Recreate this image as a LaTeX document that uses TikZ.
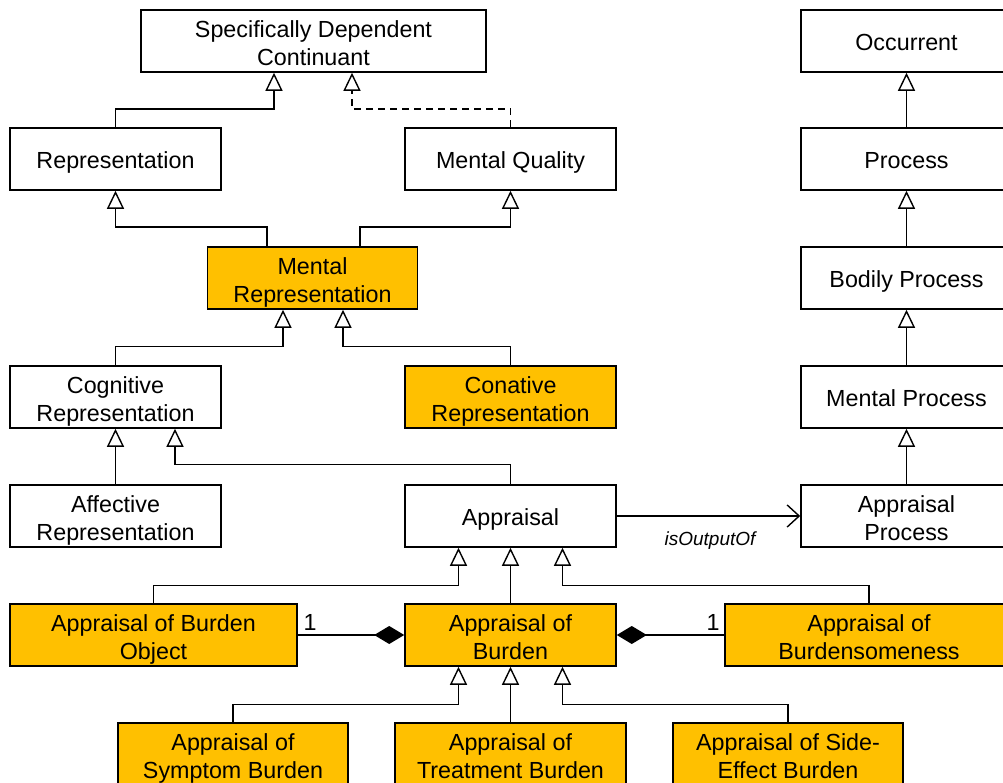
\documentclass[tikz,border=0pt]{standalone}
\usepackage{fontspec}
\setmainfont{Liberation Sans}
\usetikzlibrary{arrows.meta}
\definecolor{gold}{RGB}{255,192,0}
\newcommand{\bxone}[1]{\raisebox{0pt}[18.6pt][0pt]{\begin{tabular}[b]{@{}c@{}}#1\end{tabular}}}
\newcommand{\bxtwo}[1]{\raisebox{0pt}[49.2pt][0pt]{\begin{tabular}[b]{@{}c@{}}#1\end{tabular}}}
\begin{document}
\begin{tikzpicture}[x=1pt,y=-1pt,
  box/.style={draw=black,line width=1.6pt,fill=white,minimum height=62pt,minimum width=211pt,inner sep=0pt,font=\fontsize{23.3}{28.5}\selectfont},
  hl/.style={box,fill=gold},
  gen/.style={line width=1.4pt,-{Triangle[open,length=18pt,width=17pt]}},
  realize/.style={gen,dash pattern=on 7pt off 5pt},
  comp/.style={line width=1.4pt,{Diamond[length=30pt,width=18pt]}-},
  assoc/.style={line width=1.4pt,-{Straight Barb[length=12pt,width=22pt]}},
  lbl/.style={inner sep=0pt,font=\fontsize{23.3}{28.5}\selectfont},
  ilbl/.style={inner sep=0pt,font=\fontsize{19}{23}\selectfont\itshape}]
\useasboundingbox (0,0) rectangle (1003,783);
\clip (0,0) rectangle (1003,783);
\fill[white] (0,0) rectangle (1003,783);
% nodes
\node[box,minimum width=345pt] (sdc) at (313.5,41) {\bxtwo{Specifically Dependent\\Continuant}};
\node[box] (occ) at (906.5,41) {\bxone{Occurrent}};
\node[box] (rep) at (115.5,159) {\bxone{Representation}};
\node[box] (mq) at (510.5,159) {\bxone{Mental Quality}};
\node[box] (proc) at (906.5,159) {\bxone{Process}};
\node[hl,minimum width=210pt] (mrep) at (312.5,278) {\bxtwo{Mental\\Representation}};
\node[box] (bp) at (906.5,278) {\bxone{Bodily Process}};
\node[box] (cog) at (115.5,397) {\bxtwo{Cognitive\\Representation}};
\node[hl] (con) at (510.5,397) {\bxtwo{Conative\\Representation}};
\node[box] (mp) at (906.5,397) {\bxone{Mental Process}};
\node[box] (aff) at (115.5,516) {\bxtwo{Affective\\Representation}};
\node[box] (app) at (510.5,516) {\bxone{Appraisal}};
\node[box] (ap) at (906.5,516) {\bxtwo{Appraisal\\Process}};
\node[hl,minimum width=287pt] (abo) at (153.5,635) {\bxtwo{Appraisal of Burden\\Object}};
\node[hl] (ab) at (510.5,635) {\bxtwo{Appraisal of\\Burden}};
\node[hl,minimum width=288pt] (abs) at (869,635) {\bxtwo{Appraisal of\\Burdensomeness}};
\node[hl,minimum width=230pt] (sym) at (233,754) {\bxtwo{Appraisal of\\Symptom Burden}};
\node[hl,minimum width=231pt] (tre) at (510.5,754) {\bxtwo{Appraisal of\\Treatment Burden}};
\node[hl,minimum width=230pt] (side) at (788,754) {\bxtwo{Appraisal of Side-\\Effect Burden}};
% generalizations
\draw[gen] (rep.north) -- ++(0,-18) -| ([xshift=-39.5pt]sdc.south);
\draw[realize] (mq.north) -- ++(0,-18) -| ([xshift=38.5pt]sdc.south);
\draw[gen] (proc.north) -- (occ.south);
\draw[gen] (bp.north) -- (proc.south);
\draw[gen] (mp.north) -- (bp.south);
\draw[gen] (ap.north) -- (mp.south);
\draw[gen] ([xshift=-45.5pt]mrep.north) -- ++(0,-19) -| (rep.south);
\draw[gen] ([xshift=47.5pt]mrep.north) -- ++(0,-19) -| (mq.south);
\draw[gen] (cog.north) -- ++(0,-19) -| ([xshift=-29.5pt]mrep.south);
\draw[gen] (con.north) -- ++(0,-19) -| ([xshift=30.5pt]mrep.south);
\draw[gen] (aff.north) -- (cog.south);
\draw[gen] (app.north) -- ++(0,-20) -| ([xshift=59.5pt]cog.south);
\draw[gen] (abo.north) -- ++(0,-18) -| ([xshift=-52pt]app.south);
\draw[gen] (ab.north) -- (app.south);
\draw[gen] (abs.north) -- ++(0,-18) -| ([xshift=52pt]app.south);
\draw[gen] (sym.north) -- ++(0,-18) -| ([xshift=-52pt]ab.south);
\draw[gen] (tre.north) -- (ab.south);
\draw[gen] (side.north) -- ++(0,-18) -| ([xshift=52pt]ab.south);
% association
\draw[assoc] (app.east) -- (ap.west);
\node[ilbl] (io) at (710,541) {isOutputOf};
% compositions
\draw[comp] (ab.west) -- (abo.east);
\draw[comp] (ab.east) -- (abs.west);
\node[lbl] (m1) at (310,622) {1};
\node[lbl] (m2) at (713,622) {1};
\end{tikzpicture}
\end{document}
